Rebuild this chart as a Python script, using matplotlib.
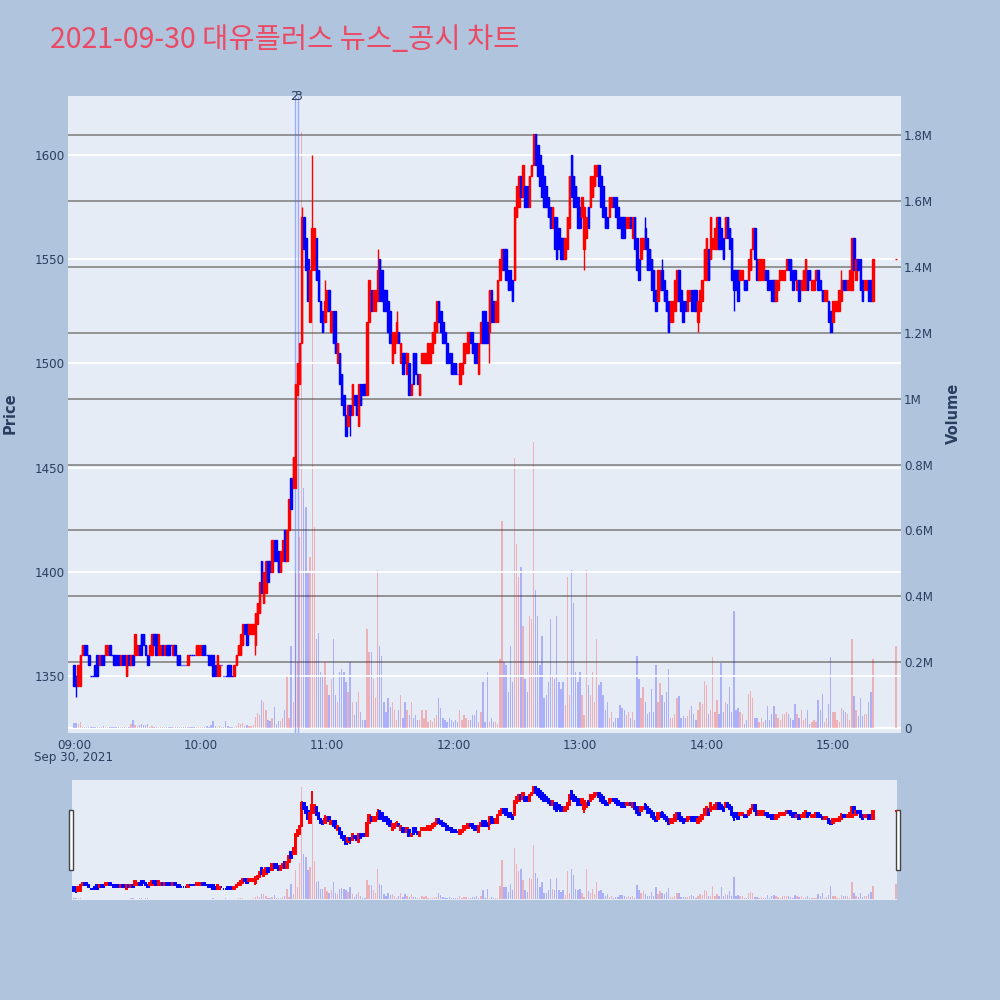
import numpy as np
import matplotlib.pyplot as plt
import matplotlib.transforms as mtransforms
from matplotlib.patches import Rectangle

plt.rcParams['font.family'] = ['DejaVu Sans', 'Noto Sans CJK KR']

## chart text
title       = '2021-09-30 대유플러스 뉴스_공시 차트'
date_label  = 'Sep 30, 2021'
time_ticks  = [0, 60, 120, 180, 240, 300, 360]          # minutes after 09:00
time_labels = ['09:00', '10:00', '11:00', '12:00', '13:00', '14:00', '15:00']
price_ticks = [1350, 1400, 1450, 1500, 1550, 1600]
vol_ticks   = [0, 0.2, 0.4, 0.6, 0.8, 1.0, 1.2, 1.4, 1.6, 1.8]
vol_labels  = ['0', '0.2M', '0.4M', '0.6M', '0.8M', '1M', '1.2M', '1.4M', '1.6M', '1.8M']

## 1-minute candles from 09:00 (index = minute)
opens = [
    1355,1350,1345,1345,1360,1365,1365,1360,1350,1350,
    1355,1360,1355,1360,1360,1360,1360,1365,1360,1360,
    1360,1360,1355,1360,1360,1350,1360,1355,1360,1360,
    1360,1365,1370,1370,1365,1360,1360,1360,1370,1370,
    1360,1360,1365,1360,1365,1365,1365,1360,1365,1360,
    1360,1355,1355,1355,1355,1360,1360,1360,1360,1360,
    1360,1365,1365,1360,1360,1360,1360,1355,1350,1350,
    1355,1350,1350,1355,1355,1350,1350,1355,1360,1360,
    1365,1375,1375,1370,1370,1370,1365,1375,1380,1405,
    1385,1390,1405,1405,1400,1415,1415,1410,1400,1405,
    1420,1405,1420,1445,1440,1440,1485,1490,1510,1570,
    1560,1550,1520,1545,1545,1560,1545,1530,1525,1520,
    1525,1535,1515,1525,1525,1500,1505,1495,1485,1475,
    1470,1480,1475,1485,1485,1470,1490,1490,1490,1485,
    1520,1535,1525,1525,1530,1550,1545,1535,1535,1530,
    1525,1500,1505,1510,1515,1500,1505,1505,1495,1500,
    1485,1505,1505,1495,1485,1500,1500,1500,1500,1500,
    1505,1510,1515,1530,1525,1520,1515,1510,1505,1505,
    1500,1500,1495,1490,1495,1500,1505,1505,1515,1515,
    1510,1510,1495,1510,1525,1525,1520,1515,1535,1530,
    1520,1520,1540,1545,1555,1555,1545,1545,1540,1540,
    1570,1575,1590,1580,1585,1585,1575,1590,1595,1610,
    1605,1600,1595,1590,1585,1580,1575,1565,1570,1570,
    1565,1560,1560,1550,1555,1565,1600,1590,1585,1580,
    1575,1570,1555,1560,1575,1575,1580,1585,1590,1595,
    1590,1585,1575,1570,1570,1575,1580,1580,1575,1570,
    1570,1570,1565,1565,1570,1560,1570,1560,1550,1550,
    1555,1565,1560,1555,1550,1545,1535,1530,1535,1545,
    1540,1535,1530,1520,1520,1525,1530,1545,1535,1530,
    1530,1525,1530,1535,1535,1535,1520,1525,1530,1540,
    1540,1555,1550,1555,1555,1555,1570,1565,1560,1560,
    1570,1565,1560,1545,1545,1545,1540,1540,1540,1540,
    1540,1545,1555,1565,1550,1540,1540,1540,1545,1545,
    1540,1540,1540,1530,1535,1540,1540,1540,1545,1550,
    1550,1545,1545,1535,1540,1535,1535,1535,1545,1545,
    1535,1535,1540,1545,1540,1535,1530,1530,1530,1525,
    1520,1525,1525,1525,1530,1540,1540,1535,1535,1535,
    1560,1540,1550,1550,1540,1535,1535,1540,1540,1530,
]
closes = [
    1345,1345,1355,1360,1365,1360,1360,1355,1350,1350,
    1350,1350,1360,1355,1355,1365,1365,1360,1360,1355,
    1355,1355,1360,1355,1355,1360,1355,1360,1355,1370,
    1365,1360,1360,1365,1360,1355,1365,1370,1365,1360,
    1370,1365,1360,1365,1360,1360,1365,1365,1360,1355,
    1355,1355,1355,1355,1360,1360,1360,1360,1365,1365,
    1365,1360,1360,1360,1355,1355,1350,1350,1360,1355,
    1355,1350,1350,1350,1350,1350,1355,1360,1365,1370,
    1375,1370,1365,1375,1375,1375,1380,1385,1395,1390,
    1400,1405,1395,1400,1415,1405,1405,1400,1410,1415,
    1405,1420,1435,1430,1455,1490,1500,1510,1570,1555,
    1545,1530,1545,1565,1565,1540,1530,1520,1515,1530,
    1535,1525,1525,1510,1505,1510,1490,1480,1475,1465,
    1480,1475,1490,1480,1475,1490,1480,1485,1485,1520,
    1540,1525,1535,1535,1545,1530,1530,1525,1525,1515,
    1510,1515,1515,1520,1510,1510,1495,1500,1505,1485,
    1490,1490,1495,1490,1495,1505,1505,1505,1510,1510,
    1515,1520,1530,1520,1515,1510,1510,1500,1500,1495,
    1495,1495,1495,1500,1500,1510,1510,1515,1510,1505,
    1500,1500,1510,1520,1510,1510,1510,1535,1520,1520,
    1530,1540,1550,1555,1545,1540,1535,1535,1530,1575,
    1585,1590,1580,1595,1575,1575,1590,1595,1610,1595,
    1590,1585,1580,1575,1575,1570,1565,1575,1555,1550,
    1555,1550,1550,1560,1570,1590,1580,1575,1575,1565,
    1565,1580,1575,1570,1565,1590,1590,1595,1595,1585,
    1575,1570,1565,1565,1580,1580,1575,1570,1565,1565,
    1560,1560,1570,1570,1565,1570,1555,1545,1540,1560,
    1560,1555,1545,1545,1535,1530,1525,1545,1545,1535,
    1530,1525,1515,1530,1530,1540,1545,1530,1525,1520,
    1525,1535,1535,1525,1525,1525,1530,1535,1540,1555,
    1560,1540,1570,1560,1565,1570,1555,1555,1550,1570,
    1560,1555,1540,1535,1535,1530,1545,1545,1535,1535,
    1550,1555,1565,1550,1540,1550,1550,1550,1540,1535,
    1535,1530,1530,1540,1540,1545,1545,1545,1550,1545,
    1540,1535,1540,1540,1530,1540,1545,1550,1535,1540,
    1540,1540,1545,1535,1535,1530,1535,1535,1520,1515,
    1530,1530,1530,1535,1540,1535,1535,1540,1545,1560,
    1545,1550,1545,1535,1530,1540,1540,1530,1530,1550,
]
# volume in millions of shares
volumes = [
    0.015,0.015,0.012,0.018,0.004,0.003,0.004,0.002,0.002,0.003,
    0.004,0.003,0.002,0.004,0.005,0.003,0.002,0.003,0.002,0.002,
    0.003,0.004,0.003,0.002,0.002,0.004,0.003,0.012,0.024,0.008,
    0.006,0.010,0.012,0.008,0.010,0.012,0.004,0.005,0.003,0.003,
    0.004,0.002,0.003,0.002,0.003,0.002,0.003,0.004,0.002,0.003,
    0.002,0.002,0.003,0.002,0.003,0.002,0.002,0.003,0.004,0.002,
    0.003,0.004,0.003,0.005,0.004,0.008,0.020,0.006,0.004,0.005,
    0.003,0.004,0.020,0.006,0.004,0.003,0.004,0.005,0.015,0.012,
    0.015,0.006,0.008,0.005,0.006,0.010,0.035,0.045,0.040,0.085,
    0.080,0.055,0.025,0.020,0.030,0.063,0.012,0.020,0.020,0.030,
    0.055,0.160,0.030,0.250,0.080,0.470,0.200,0.580,1.810,0.730,
    0.670,0.470,0.520,1.740,0.610,0.270,0.290,0.170,0.160,0.200,
    0.130,0.100,0.150,0.270,0.100,0.080,0.170,0.180,0.170,0.140,
    0.110,0.200,0.080,0.040,0.080,0.110,0.050,0.025,0.025,0.300,
    0.230,0.230,0.150,0.090,0.480,0.250,0.220,0.080,0.050,0.090,
    0.065,0.080,0.055,0.025,0.055,0.100,0.030,0.080,0.055,0.040,
    0.080,0.030,0.040,0.025,0.025,0.055,0.030,0.055,0.018,0.025,
    0.018,0.030,0.040,0.090,0.060,0.030,0.025,0.018,0.030,0.025,
    0.018,0.025,0.018,0.055,0.025,0.040,0.030,0.025,0.025,0.040,
    0.040,0.055,0.018,0.048,0.140,0.018,0.170,0.018,0.030,0.018,
    0.018,0.012,0.210,0.630,0.200,0.190,0.110,0.250,0.140,0.820,
    0.560,0.460,0.490,0.310,0.150,0.110,0.340,0.330,0.870,0.420,
    0.340,0.190,0.280,0.090,0.100,0.140,0.330,0.160,0.150,0.340,
    0.140,0.120,0.140,0.070,0.460,0.100,0.480,0.380,0.170,0.140,
    0.170,0.100,0.040,0.480,0.130,0.100,0.170,0.080,0.270,0.130,
    0.140,0.100,0.055,0.080,0.030,0.048,0.018,0.030,0.030,0.070,
    0.060,0.055,0.040,0.048,0.030,0.048,0.025,0.220,0.150,0.090,
    0.126,0.078,0.042,0.048,0.120,0.048,0.190,0.078,0.138,0.100,
    0.078,0.108,0.180,0.030,0.030,0.042,0.090,0.096,0.030,0.036,
    0.030,0.036,0.054,0.066,0.042,0.024,0.054,0.078,0.072,0.144,
    0.132,0.042,0.054,0.216,0.048,0.084,0.042,0.198,0.048,0.078,
    0.072,0.126,0.048,0.354,0.054,0.060,0.048,0.042,0.012,0.024,
    0.102,0.114,0.090,0.030,0.030,0.018,0.030,0.018,0.024,0.066,
    0.024,0.042,0.066,0.042,0.030,0.024,0.042,0.042,0.048,0.042,
    0.030,0.024,0.072,0.042,0.030,0.054,0.024,0.030,0.054,0.012,
    0.018,0.024,0.018,0.084,0.054,0.102,0.018,0.030,0.072,0.216,
    0.048,0.048,0.024,0.018,0.060,0.054,0.048,0.042,0.024,0.270,
    0.096,0.054,0.036,0.090,0.036,0.042,0.042,0.078,0.108,0.210,
]
# wicks that reach beyond the body {minute: price}
wick_highs = {108: 1575, 113: 1600, 119: 1540, 144: 1555, 153: 1525,
              271: 1570, 279: 1550, 364: 1545}
wick_lows  = {1: 1340, 35: 1355, 86: 1360, 131: 1465, 197: 1500,
              242: 1545, 296: 1515, 313: 1525}

## closing auction at 15:30
close_minute = 390
close_price  = 1550
close_volume = 0.25

## news / disclosure markers
news_minutes = [104.6, 106.4]
news_labels  = ['2', '3']

## colours
fig_bg  = '#B0C4DE'
plot_bg = '#E5ECF6'
txt_col = '#2a3f5f'
up_col  = '#FF0000'
dn_col  = '#0000FF'

## assemble arrays
t  = list(range(len(opens))) + [close_minute]
o  = np.array(opens + [close_price], dtype=float)
c  = np.array(closes + [close_price], dtype=float)
v  = np.array(volumes + [close_volume])
hi = np.maximum(o, c)
lo = np.minimum(o, c)
for m, p in wick_highs.items():
    hi[m] = p
for m, p in wick_lows.items():
    lo[m] = p
up = c > o
up[-1] = True
col = np.where(up, up_col, dn_col)


def draw_candles(ax, lw):
    ax.vlines(t, lo, hi, colors=col, linewidth=lw, zorder=3)
    ax.bar(t, np.abs(c - o), bottom=np.minimum(o, c), width=0.7,
           color=col, edgecolor=col, linewidth=lw, zorder=4)


def draw_volume(ax):
    ax.bar(t, v, width=0.65, color=col, alpha=0.25, linewidth=0, zorder=2)


fig = plt.figure(figsize=(10, 10), dpi=100, facecolor=fig_bg)

## main chart: candles (left axis) over volume (right axis)
ax_p = fig.add_axes([0.068, 0.267, 0.833, 0.637])
ax_v = ax_p.twinx()
ax_p.set_zorder(ax_v.get_zorder() + 1)
ax_p.patch.set_visible(False)
ax_v.patch.set_visible(True)
ax_v.patch.set_facecolor(plot_bg)

draw_volume(ax_v)
for vt in vol_ticks[1:]:
    ax_v.axhline(vt, color='#8c8c8c', linewidth=1.3, zorder=1)
ax_v.axhline(0, color='white', linewidth=1.6, zorder=1)
for pt in price_ticks:
    ax_p.axhline(pt, color='white', linewidth=1.3, zorder=0.5)
draw_candles(ax_p, 1.0)

for x, lab in zip(news_minutes, news_labels):
    ax_p.axvline(x, color='#4060F0', alpha=0.45, linewidth=1.0, zorder=2)
    ax_p.text(x, 1.0, lab, transform=mtransforms.blended_transform_factory(
              ax_p.transData, ax_p.transAxes), ha='center', va='center',
              fontsize=9, color=txt_col)

ax_p.set_xlim(-2.85, 392.3)
ax_p.set_ylim(1322.6, 1628.3)
ax_v.set_ylim(-0.015, 1.919)

ax_p.set_xticks(time_ticks)
ax_p.set_xticklabels(time_labels)
ax_p.set_yticks(price_ticks)
ax_p.set_yticklabels([str(p) for p in price_ticks])
ax_v.set_yticks(vol_ticks)
ax_v.set_yticklabels(vol_labels)
ax_p.tick_params(axis='x', length=0, pad=4, labelsize=8.6, labelcolor=txt_col)
ax_p.tick_params(axis='y', length=0, pad=2, labelsize=8.6, labelcolor=txt_col)
ax_v.tick_params(axis='y', length=0, pad=2, labelsize=8.6, labelcolor=txt_col)
for a in (ax_p, ax_v):
    for s in a.spines.values():
        s.set_visible(False)

ax_p.text(0, 0.242, date_label, transform=mtransforms.blended_transform_factory(
          ax_p.transData, fig.transFigure), ha='center', va='center',
          fontsize=8.6, color=txt_col)
fig.text(0.010, 0.587, 'Price', rotation=90, ha='center', va='center',
         fontsize=10.5, color=txt_col, fontweight='bold')
fig.text(0.953, 0.587, 'Volume', rotation=90, ha='center', va='center',
         fontsize=10.5, color=txt_col, fontweight='bold')
fig.text(0.05, 0.960, title, ha='left', va='center', fontsize=20.5,
         color='#EB4A64', family=['Noto Sans CJK KR', 'DejaVu Sans'])

## range slider
ax_s = fig.add_axes([0.072, 0.100, 0.825, 0.120])
ax_s2 = ax_s.twinx()
ax_s.set_zorder(ax_s2.get_zorder() + 1)
ax_s.patch.set_visible(False)
ax_s2.patch.set_visible(True)
ax_s2.patch.set_facecolor(plot_bg)
draw_volume(ax_s2)
draw_candles(ax_s, 1.4)
ax_s.set_xlim(-0.95, 390.4)
ax_s.set_ylim(1322.6, 1628.3)
ax_s2.set_ylim(-0.015, 1.919)
for a in (ax_s, ax_s2):
    a.set_xticks([])
    a.set_yticks([])
    for s in a.spines.values():
        s.set_visible(False)

for hx in (0.069, 0.8955):
    fig.add_artist(Rectangle((hx, 0.130), 0.004, 0.060, transform=fig.transFigure,
                             facecolor='white', edgecolor='#444444', linewidth=1.0))

fig.savefig('out.png', dpi=100, facecolor=fig_bg)
